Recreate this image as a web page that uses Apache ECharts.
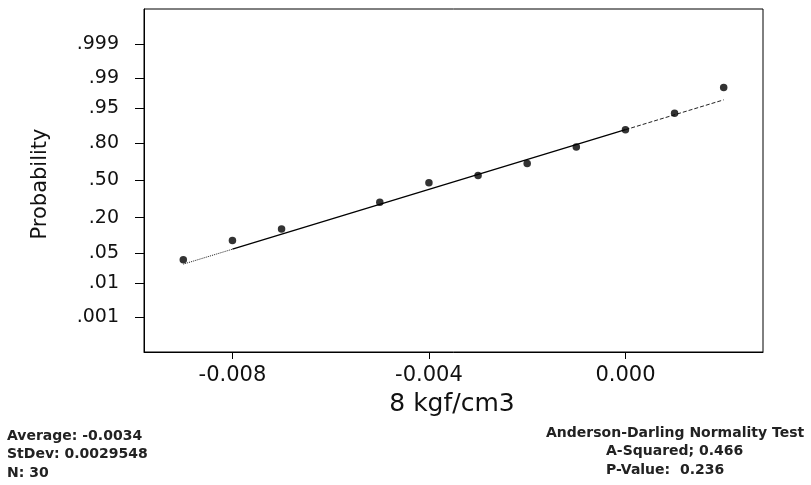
<!DOCTYPE html>
<html>
<head>
<meta charset="utf-8">
<script src="https://cdn.jsdelivr.net/npm/echarts@6/dist/echarts.min.js"></script>
<style>
html,body{margin:0;padding:0;background:#fff;}
#chart{width:811px;height:485px;}
</style>
</head>
<body>
<div id="chart"></div>
<script>
// ---- data ----
const xValues = [-0.009, -0.008, -0.007, -0.005, -0.004, -0.003, -0.002, -0.001, 0.000, 0.001, 0.002];
const probValues = [0.0363, 0.0874, 0.1361, 0.3110, 0.4793, 0.5454, 0.6503, 0.7755, 0.8745, 0.9361, 0.9824];
const probTickValues = [0.999, 0.99, 0.95, 0.80, 0.50, 0.20, 0.05, 0.01, 0.001];
const probTickLabels = ['.999', '.99', '.95', '.80', '.50', '.20', '.05', '.01', '.001'];
const xTickValues = [-0.008, -0.004, 0.000];
const statsMean = -0.0034;
const statsStDev = 0.0029548;
const statsN = 30;
const adSquared = 0.466;
const adPValue = 0.236;
const fitSegmentsX = [[-0.009, -0.008], [-0.008, 0.000], [0.000, 0.002]];

// inverse standard normal CDF (Acklam) used as the probability-axis transform
function invNorm(p) {
  const a = [-3.969683028665376e+01, 2.209460984245205e+02, -2.759285104469687e+02, 1.383577518672690e+02, -3.066479806614716e+01, 2.506628277459239e+00];
  const b = [-5.447609879822406e+01, 1.615858368580409e+02, -1.556989798598866e+02, 6.680131188771972e+01, -1.328068155288572e+01];
  const c = [-7.784894002430293e-03, -3.223964580411365e-01, -2.400758277161838e+00, -2.549732539343734e+00, 4.374664141464968e+00, 2.938163982698783e+00];
  const d = [7.784695709041462e-03, 3.224671290700398e-01, 2.445134137142996e+00, 3.754408661907416e+00];
  const pl = 0.02425, ph = 1 - pl;
  let q, r;
  if (p < pl) {
    q = Math.sqrt(-2 * Math.log(p));
    return (((((c[0]*q+c[1])*q+c[2])*q+c[3])*q+c[4])*q+c[5]) / ((((d[0]*q+d[1])*q+d[2])*q+d[3])*q+1);
  } else if (p <= ph) {
    q = p - 0.5; r = q * q;
    return (((((a[0]*r+a[1])*r+a[2])*r+a[3])*r+a[4])*r+a[5])*q / (((((b[0]*r+b[1])*r+b[2])*r+b[3])*r+b[4])*r+1);
  } else {
    q = Math.sqrt(-2 * Math.log(1 - p));
    return -(((((c[0]*q+c[1])*q+c[2])*q+c[3])*q+c[4])*q+c[5]) / ((((d[0]*q+d[1])*q+d[2])*q+d[3])*q+1);
  }
}

const tickZ = probTickValues.map(invNorm);
const pointData = xValues.map((x, i) => [x, invNorm(probValues[i])]);
const fitZ = x => (x - statsMean) / statsStDev;
const fitSeg = fitSegmentsX.map(seg => seg.map(x => [x, fitZ(x)]));

const FONT = 'DejaVu Sans';
const chart = echarts.init(document.getElementById('chart'), null, {renderer: 'canvas'});
chart.setOption({
  animation: false,
  backgroundColor: '#ffffff',
  grid: {left: 144, right: 48, top: 9, bottom: 133, show: true, borderColor: '#000', borderWidth: 1, backgroundColor: '#fff'},
  xAxis: {
    type: 'value', min: -0.0098, max: 0.0028,
    axisLine: {show: true, onZero: false, lineStyle: {color: '#000', width: 1}},
    axisTick: {show: true, length: 7, customValues: xTickValues, lineStyle: {color: '#000'}},
    axisLabel: {customValues: xTickValues, margin: 13, color: '#111', fontFamily: FONT, fontSize: 21,
      formatter: v => v.toFixed(3)},
    splitLine: {show: false}
  },
  yAxis: {
    type: 'value', min: -3.886, max: 3.886,
    axisLine: {show: true, onZero: false, lineStyle: {color: '#000', width: 1}},
    axisTick: {show: true, length: 9, customValues: tickZ, lineStyle: {color: '#000'}},
    axisLabel: {customValues: tickZ, margin: 25, color: '#111', fontFamily: FONT, fontSize: 19,
      formatter: v => {
        let best = 0, bd = Infinity;
        tickZ.forEach((z, i) => { const dd = Math.abs(z - v); if (dd < bd) { bd = dd; best = i; } });
        return probTickLabels[best];
      }},
    splitLine: {show: false}
  },
  series: [
    {type: 'line', data: fitSeg[0], symbol: 'none', lineStyle: {color: '#222', width: 1, type: 'dotted'}, z: 2},
    {type: 'line', data: fitSeg[1], symbol: 'none', lineStyle: {color: '#000', width: 1.3, type: 'solid'}, z: 2},
    {type: 'line', data: fitSeg[2], symbol: 'none', lineStyle: {color: '#222', width: 1, type: 'dashed'}, z: 2},
    {type: 'scatter', data: pointData, symbol: 'circle', symbolSize: 7.5, itemStyle: {color: '#000'}, z: 3}
  ],
  graphic: [
    {type: 'text', x: 41, y: 184, rotation: Math.PI / 2,
      style: {text: 'Probability', font: '21px "DejaVu Sans"', fill: '#111', align: 'center', verticalAlign: 'middle'}},
    {type: 'text', x: 452, y: 404,
      style: {text: '8 kgf/cm3', font: '25px "DejaVu Sans"', fill: '#111', align: 'center', verticalAlign: 'middle'}},
    {type: 'text', x: 7, y: 436,
      style: {text: 'Average: ' + statsMean.toFixed(4), font: 'bold 14px "DejaVu Sans"', fill: '#222', align: 'left', verticalAlign: 'middle'}},
    {type: 'text', x: 7, y: 454,
      style: {text: 'StDev: ' + statsStDev.toFixed(7), font: 'bold 14px "DejaVu Sans"', fill: '#222', align: 'left', verticalAlign: 'middle'}},
    {type: 'text', x: 7, y: 473,
      style: {text: 'N: ' + statsN, font: 'bold 14px "DejaVu Sans"', fill: '#222', align: 'left', verticalAlign: 'middle'}},
    {type: 'text', x: 546, y: 433,
      style: {text: 'Anderson-Darling Normality Test', font: 'bold 14px "DejaVu Sans"', fill: '#222', align: 'left', verticalAlign: 'middle'}},
    {type: 'text', x: 606, y: 451,
      style: {text: 'A-Squared; ' + adSquared.toFixed(3), font: 'bold 14px "DejaVu Sans"', fill: '#222', align: 'left', verticalAlign: 'middle'}},
    {type: 'text', x: 606, y: 470,
      style: {text: 'P-Value:  ' + adPValue.toFixed(3), font: 'bold 14px "DejaVu Sans"', fill: '#222', align: 'left', verticalAlign: 'middle'}}
  ]
});
</script>
</body>
</html>
